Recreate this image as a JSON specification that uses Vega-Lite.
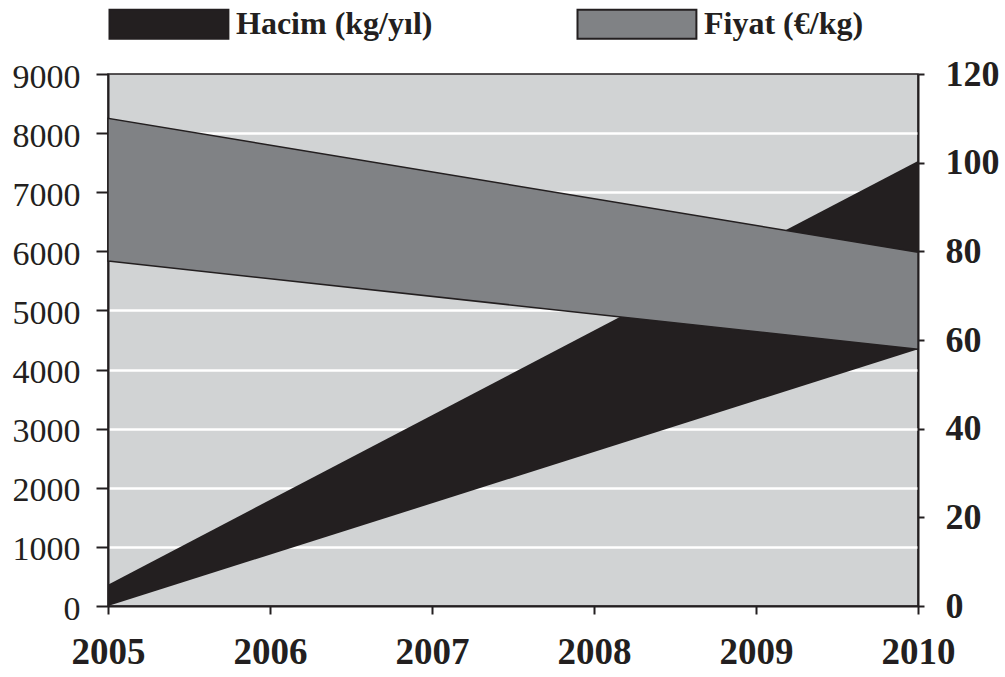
{
  "$schema": "https://vega.github.io/schema/vega-lite/v6.json",
  "width": 810,
  "height": 532,
  "autosize": "none",
  "padding": {"left": 108, "top": 74, "right": 87, "bottom": 71},
  "background": "white",
  "config": {
    "view": {"fill": "#d1d3d4", "stroke": "#231f20", "strokeWidth": 1.5},
    "font": "Liberation Serif"
  },
  "datasets": {
    "hacim": [
      {"yil": 2005, "alt": 0, "ust": 360, "seri": "Hacim (kg/yıl)"},
      {"yil": 2010, "alt": 4343, "ust": 7528, "seri": "Hacim (kg/yıl)"}
    ],
    "fiyat": [
      {"yil": 2005, "alt": 77.8, "ust": 110, "seri": "Fiyat (€/kg)"},
      {"yil": 2010, "alt": 57.9, "ust": 79.8, "seri": "Fiyat (€/kg)"}
    ]
  },
  "encoding": {
    "x": {
      "field": "yil",
      "type": "quantitative",
      "scale": {"domain": [2005, 2010], "nice": false, "zero": false},
      "axis": {
        "title": null,
        "values": [2005, 2006, 2007, 2008, 2009, 2010],
        "format": "d",
        "grid": false,
        "labelFlush": false,
        "labelOverlap": false,
        "labelBound": false,
        "labelFont": "Liberation Serif",
        "labelFontSize": 37,
        "labelFontWeight": "bold",
        "labelColor": "#231f20",
        "labelPadding": 20,
        "domainColor": "#231f20",
        "domainWidth": 2,
        "tickColor": "#231f20",
        "tickWidth": 2,
        "tickSize": 8,
        "encode": {"ticks": {"update": {"y": {"value": -4}}}}
      }
    }
  },
  "layer": [
    {
      "data": {"name": "hacim"},
      "mark": {"type": "area", "opacity": 1},
      "encoding": {
        "y": {
          "field": "alt",
          "type": "quantitative",
          "scale": {"domain": [0, 9000], "nice": false},
          "axis": {
            "orient": "left",
            "title": null,
            "values": [0, 1000, 2000, 3000, 4000, 5000, 6000, 7000, 8000, 9000],
            "format": "d",
            "grid": true,
            "gridColor": "#ffffff",
            "gridWidth": 2.5,
            "gridOpacity": {"condition": {"test": "datum.value == 0 || datum.value == 9000", "value": 0}, "value": 1},
            "labelFont": "Liberation Serif",
            "labelFontSize": 34,
            "labelColor": "#231f20",
            "labelPadding": 16,
            "labelOffset": 3,
            "domainColor": "#231f20",
            "domainWidth": 2,
            "tickColor": "#231f20",
            "tickWidth": 2,
            "tickSize": 12
          }
        },
        "y2": {"field": "ust"},
        "fill": {
          "field": "seri",
          "type": "nominal",
          "scale": {"domain": ["Hacim (kg/yıl)", "Fiyat (€/kg)"], "range": ["#231f20", "#808285"]},
          "legend": {
            "orient": "none",
            "legendX": 0,
            "legendY": -66,
            "direction": "horizontal",
            "title": null,
            "padding": 0,
            "symbolType": "M-1,-1H7.2V1H-1Z",
            "symbolSize": 841,
            "symbolStrokeColor": "#231f20",
            "symbolStrokeWidth": 2,
            "symbolOpacity": 1,
            "labelFont": "Liberation Serif",
            "labelFontSize": 32,
            "labelFontWeight": "bold",
            "labelColor": "#231f20",
            "labelOffset": 96,
            "labelLimit": 400,
            "columnPadding": 140
          }
        }
      }
    },
    {
      "data": {"name": "fiyat"},
      "mark": {"type": "area", "opacity": 1, "stroke": "#231f20", "strokeWidth": 1.5},
      "encoding": {
        "y": {
          "field": "alt",
          "type": "quantitative",
          "scale": {"domain": [0, 120], "nice": false},
          "axis": {
            "orient": "right",
            "title": null,
            "values": [0, 20, 40, 60, 80, 100, 120],
            "grid": false,
            "labelFont": "Liberation Serif",
            "labelFontSize": 36,
            "labelFontWeight": "bold",
            "labelColor": "#231f20",
            "labelPadding": 21,
            "domainColor": "#231f20",
            "domainWidth": 2,
            "tickColor": "#231f20",
            "tickWidth": 2,
            "tickSize": 6,
            "encode": {"ticks": {"update": {"x": {"value": -6}}}}
          }
        },
        "y2": {"field": "ust"},
        "fill": {"field": "seri", "type": "nominal"}
      }
    }
  ],
  "resolve": {"scale": {"y": "independent"}}
}
